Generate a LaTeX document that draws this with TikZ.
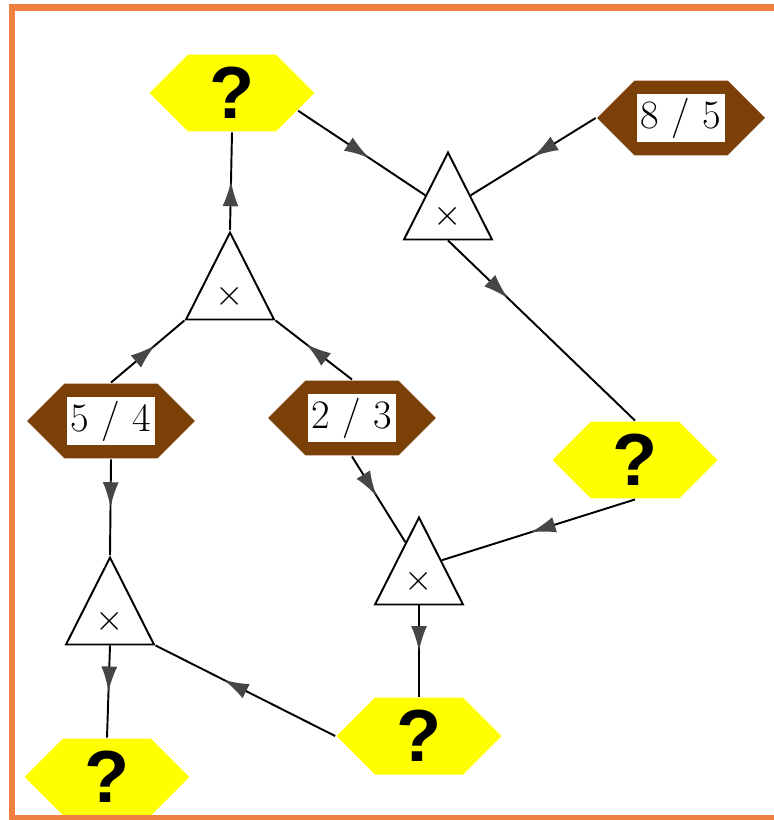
\documentclass[tikz,border=0pt]{standalone}
\usepackage{fontspec}
\newfontfamily\qfont{Liberation Sans}
\usetikzlibrary{shapes,shapes.geometric,shapes.symbols,arrows.meta,decorations.markings,calc}
\definecolor{qyellow}{RGB}{255,255,0}
\definecolor{bark}{RGB}{122,64,8}
\definecolor{framecol}{RGB}{240,128,64}
\definecolor{tipgray}{RGB}{70,70,70}

\begin{document}
\begin{tikzpicture}[
    x=0.02cm, y=-0.02cm,
    line width=1.1pt,
    unknown/.style={signal, signal to=east and west,
                fill=qyellow, draw=none,
                minimum width=3.3cm, minimum height=1.54cm, inner sep=0pt,
                font=\qfont\bfseries\fontsize{42}{42}\selectfont},
    given/.style={signal, signal to=east and west,
                fill=bark, draw=none,
                minimum width=3.36cm, minimum height=1.5cm, inner sep=0pt,
                font=\fontsize{23}{23}\selectfont},
    times/.style={isosceles triangle, isosceles triangle stretches,
                shape border rotate=90, draw, fill=white,
                minimum width=1.76cm, minimum height=1.74cm, inner sep=0pt,
                font=\fontsize{20}{20}\selectfont},
    flow/.style={postaction={decorate},
                decoration={markings,
                  mark=at position #1 with {\arrow[tipgray]{Latex[length=0.5cm,width=0.32cm]}}}},
    flow/.default=0.5]
    \useasboundingbox (0,0) rectangle (773,820);

    % values and unknowns
    \node[unknown] (Q1) at (232,93) {?};
    \node[given] (B85) at (681,118) {\setlength{\fboxsep}{2pt}\colorbox{white}{8 / 5}};
    \node[given] (B54) at (111,421) {\setlength{\fboxsep}{2pt}\colorbox{white}{5 / 4}};
    \node[given] (B23) at (352,418) {\setlength{\fboxsep}{2pt}\colorbox{white}{2 / 3}};
    \node[unknown] (Q2) at (635,460) {?};
    \node[unknown] (Q3) at (419,736) {?};
    \node[unknown] (Q4) at (107,777) {?};

    % multiplications
    \node[times, anchor=apex] (T1) at (448,150) {$\times$};
    \node[times, anchor=apex] (T2) at (230,230) {$\times$};
    \node[times, anchor=apex] (T3) at (419,515) {$\times$};
    \node[times, anchor=apex] (T4) at (110,555) {$\times$};

    \draw[flow] (T2.apex) -- (Q1.south);
    \draw[flow=0.56] (Q1.-15) -- (T1.left side);
    \draw[flow] (B85.west) -- (T1.right side);
    \draw[flow=0.32] (T1.lower side) -- (Q2.north);
    \draw[flow=0.6] (B54.north) -- (T2.left corner);
    \draw[flow=0.6] (B23.north) -- (T2.right corner);
    \draw[flow] (B54.south) -- (T4.apex);
    \draw[flow=0.46] (B23.south) -- ($(T3.apex)!0.3!(T3.left corner)$);
    \draw[flow=0.54] (Q2.south) -- (T3.right side);
    \draw[flow] (T3.lower side) -- (Q3.north);
    \draw[flow=0.62] (Q3.west) -- (T4.right corner);
    \draw[flow] (T4.lower side) -- (Q4.north);

    % frame
    \draw[framecol, line width=0.14cm] (790,8) -- (12,8) -- (12,818) -- (790,818);
\end{tikzpicture}
\end{document}
